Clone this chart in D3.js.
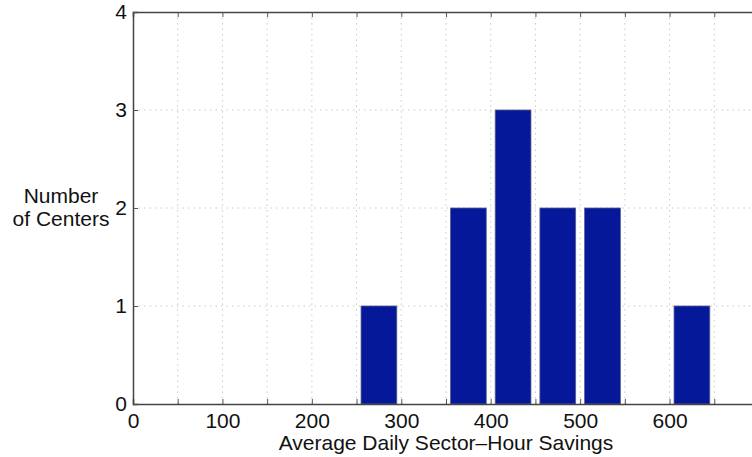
<!DOCTYPE html>
<html>
<head>
<meta charset="utf-8">
<script src="https://cdn.jsdelivr.net/npm/d3@7"></script>
<style>
  body { margin: 0; background: #fff; }
  svg { display: block; overflow: hidden; }
  text { font-family: "Liberation Sans", Arial, Helvetica, sans-serif; fill: #111; }
  .grid line { stroke: #c8c8c8; stroke-width: 1; stroke-dasharray: 1.5, 4; }
</style>
</head>
<body>
<svg id="chart" width="752" height="457"></svg>
<script>
// histogram bins (centres) and counts
var binCenters = [275, 325, 375, 425, 475, 525, 575, 625];
var counts     = [1, 0, 2, 3, 2, 2, 0, 1];
var xTickLabels = [0, 100, 200, 300, 400, 500, 600];
var yTickLabels = [0, 1, 2, 3, 4];

var svg = d3.select("#chart");
var padL = 133, padR = 759, padT = 12, padB = 404;
var fs = 21;

var x = d3.scaleLinear().domain([0, 700]).range([padL, padR]);
var y = d3.scaleLinear().domain([0, 4]).range([padB, padT]);

var gridX = d3.range(50, 700, 50);

// dotted grid
var grid = svg.append("g").attr("class", "grid");
grid.selectAll(".gx").data(gridX).enter().append("line")
    .attr("x1", function(d){ return x(d); })
    .attr("x2", function(d){ return x(d); })
    .attr("y1", padT).attr("y2", padB);
grid.selectAll(".gy").data([1, 2, 3]).enter().append("line")
    .attr("x1", padL).attr("x2", padR)
    .attr("y1", function(d){ return y(d); })
    .attr("y2", function(d){ return y(d); });

// bars
var barW = x(40) - x(0);
var barData = binCenters.map(function(c, i){ return {c: c, n: counts[i]}; })
    .filter(function(d){ return d.n > 0; });
svg.append("g").selectAll("rect")
    .data(barData)
    .enter().append("rect")
    .attr("x", function(d){ return x(d.c) - barW / 2; })
    .attr("y", function(d){ return y(d.n); })
    .attr("width", barW)
    .attr("height", function(d){ return y(0) - y(d.n); })
    .attr("fill", "#05189a")
    .attr("stroke", "#5a5f90")
    .attr("stroke-width", 0.8);

// axes (matlab style, ticks inward)
var xAxis = d3.axisBottom(x).tickValues(d3.range(0, 701, 50)).tickSize(-5)
    .tickFormat(function(d){ return xTickLabels.indexOf(d) >= 0 ? d : ""; });
var gx = svg.append("g").attr("transform", "translate(0," + padB + ")").call(xAxis);
gx.selectAll("text").attr("font-size", fs).attr("dy", 0).attr("y", 24);

var xTop = d3.axisTop(x).tickValues(d3.range(0, 701, 50)).tickSize(-5).tickFormat("");
svg.append("g").attr("transform", "translate(0," + padT + ")").call(xTop);

var yAxis = d3.axisLeft(y).tickValues(yTickLabels).tickSize(-5).tickFormat(d3.format("d"));
var gy = svg.append("g").attr("transform", "translate(" + padL + ",0)").call(yAxis);
gy.selectAll("text").attr("font-size", fs).attr("x", -6).attr("dy", "0.3em");

svg.selectAll(".domain").attr("stroke", "#444").attr("stroke-width", 1.5);
svg.selectAll(".tick line").attr("stroke", "#555").attr("stroke-width", 1);
svg.selectAll(".tick text").attr("fill", "#111").attr("font-family", "Liberation Sans, Arial, sans-serif");

// axis labels
svg.append("text")
    .attr("x", 446).attr("y", 450)
    .attr("text-anchor", "middle").attr("font-size", fs)
    .text("Average Daily Sector\u2013Hour Savings");

var yl = svg.append("text").attr("text-anchor", "middle").attr("font-size", fs);
yl.append("tspan").attr("x", 61).attr("y", 203).text("Number");
yl.append("tspan").attr("x", 61).attr("y", 226).text("of Centers");
</script>
</body>
</html>
